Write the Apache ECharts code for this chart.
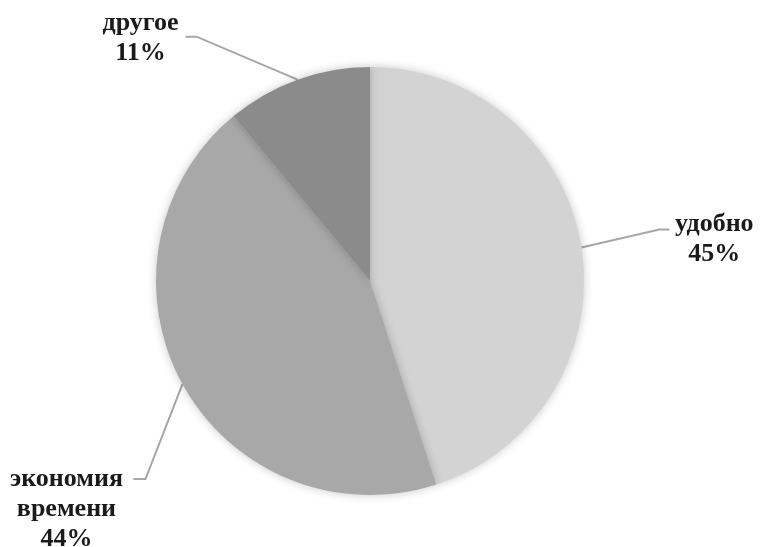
<!DOCTYPE html>
<html>
<head>
<meta charset="utf-8">
<script src="https://cdn.jsdelivr.net/npm/echarts@6/dist/echarts.min.js"></script>
<style>
  html, body { margin: 0; padding: 0; background: #fff; }
  #chart { width: 761px; height: 547px; }
</style>
</head>
<body>
<div id="chart"></div>
<script>
// Reasons for choosing the service (share of answers, %)
const categories = ['удобно', 'экономия времени', 'другое'];
const shares = [45, 44, 11];
const sliceColors = ['#d3d3d3', '#a8a8a8', '#8b8b8b'];

// Leader line bends and label centres, as offsets from each slice's anchor point
const leaderOffsets = [
  { bend: [78, -18], end: [88, -18], label: [133, -8] },
  { bend: [-37, 95], end: [-49, 95], label: [-116, 125] },
  { bend: [-101, -43], end: [-112, -43], label: [-157, -41] }
];

const chart = echarts.init(document.getElementById('chart'), null, { renderer: 'canvas' });

chart.setOption({
  backgroundColor: '#ffffff',
  animation: false,
  series: [{
    type: 'pie',
    center: [370, 281],
    radius: 214,
    startAngle: 90,
    clockwise: true,
    data: categories.map((name, i) => ({
      name: name,
      value: shares[i],
      itemStyle: { color: sliceColors[i] }
    })),
    itemStyle: {
      borderWidth: 0,
      shadowBlur: 10,
      shadowColor: 'rgba(0,0,0,0.22)'
    },
    label: {
      show: true,
      formatter: p => p.name.replace(' ', '\n') + '\n' + p.percent + '%',
      fontFamily: '"Liberation Serif", "Times New Roman", serif',
      fontWeight: 'bold',
      fontSize: 26,
      lineHeight: 30,
      color: '#1a1a1a',
      align: 'center'
    },
    labelLine: {
      show: true,
      length: 20,
      length2: 10,
      lineStyle: { color: '#a6a6a6', width: 2 }
    },
    labelLayout: function (params) {
      const o = leaderOffsets[params.dataIndex];
      const a = params.labelLinePoints ? params.labelLinePoints[0] : [0, 0];
      return {
        x: a[0] + o.label[0],
        y: a[1] + o.label[1],
        align: 'center',
        verticalAlign: 'middle',
        labelLinePoints: [
          [a[0], a[1]],
          [a[0] + o.bend[0], a[1] + o.bend[1]],
          [a[0] + o.end[0], a[1] + o.end[1]]
        ]
      };
    }
  }]
});
</script>
</body>
</html>
